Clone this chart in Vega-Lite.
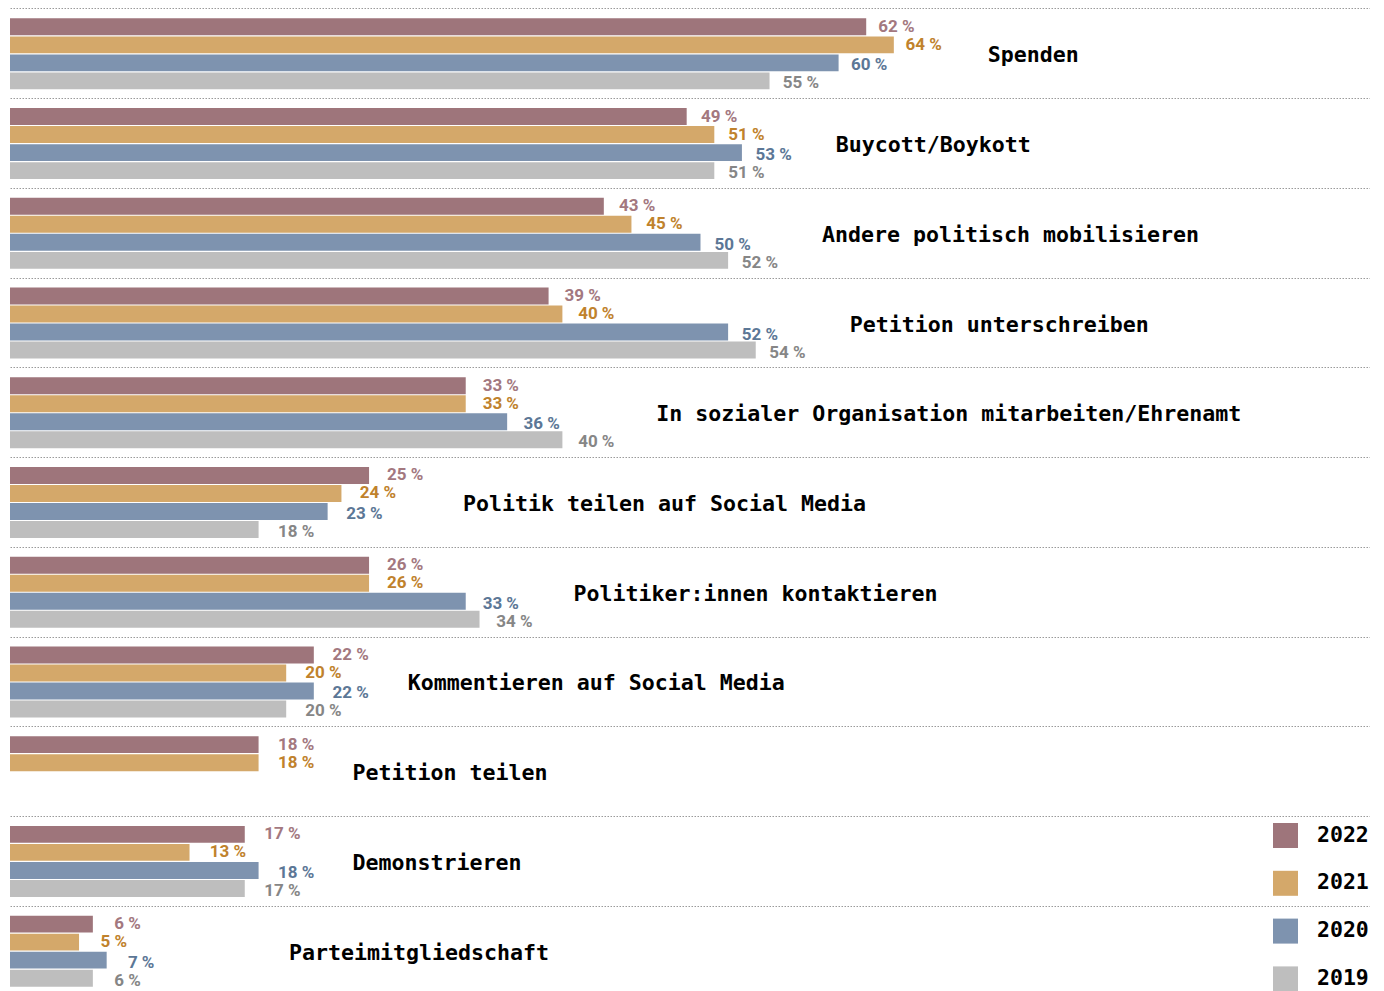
{
  "$schema": "https://vega.github.io/schema/vega-lite/v6.json",
  "autosize": {"type": "none"},
  "padding": {"left": 10, "top": 9, "right": 0, "bottom": 0},
  "width": 1360,
  "height": 987,
  "background": "white",
  "config": {"view": {"stroke": null}, "font": "DejaVu Sans Mono"},
  "data": {"values": [
    {"cat": "Spenden", "year": "2022", "value": 62},
    {"cat": "Spenden", "year": "2021", "value": 64},
    {"cat": "Spenden", "year": "2020", "value": 60},
    {"cat": "Spenden", "year": "2019", "value": 55},
    {"cat": "Buycott/Boykott", "year": "2022", "value": 49},
    {"cat": "Buycott/Boykott", "year": "2021", "value": 51},
    {"cat": "Buycott/Boykott", "year": "2020", "value": 53},
    {"cat": "Buycott/Boykott", "year": "2019", "value": 51},
    {"cat": "Andere politisch mobilisieren", "year": "2022", "value": 43},
    {"cat": "Andere politisch mobilisieren", "year": "2021", "value": 45},
    {"cat": "Andere politisch mobilisieren", "year": "2020", "value": 50},
    {"cat": "Andere politisch mobilisieren", "year": "2019", "value": 52},
    {"cat": "Petition unterschreiben", "year": "2022", "value": 39},
    {"cat": "Petition unterschreiben", "year": "2021", "value": 40},
    {"cat": "Petition unterschreiben", "year": "2020", "value": 52},
    {"cat": "Petition unterschreiben", "year": "2019", "value": 54},
    {"cat": "In sozialer Organisation mitarbeiten/Ehrenamt", "year": "2022", "value": 33},
    {"cat": "In sozialer Organisation mitarbeiten/Ehrenamt", "year": "2021", "value": 33},
    {"cat": "In sozialer Organisation mitarbeiten/Ehrenamt", "year": "2020", "value": 36},
    {"cat": "In sozialer Organisation mitarbeiten/Ehrenamt", "year": "2019", "value": 40},
    {"cat": "Politik teilen auf Social Media", "year": "2022", "value": 26, "label": 25},
    {"cat": "Politik teilen auf Social Media", "year": "2021", "value": 24},
    {"cat": "Politik teilen auf Social Media", "year": "2020", "value": 23},
    {"cat": "Politik teilen auf Social Media", "year": "2019", "value": 18},
    {"cat": "Politiker:innen kontaktieren", "year": "2022", "value": 26},
    {"cat": "Politiker:innen kontaktieren", "year": "2021", "value": 26},
    {"cat": "Politiker:innen kontaktieren", "year": "2020", "value": 33},
    {"cat": "Politiker:innen kontaktieren", "year": "2019", "value": 34},
    {"cat": "Kommentieren auf Social Media", "year": "2022", "value": 22},
    {"cat": "Kommentieren auf Social Media", "year": "2021", "value": 20},
    {"cat": "Kommentieren auf Social Media", "year": "2020", "value": 22},
    {"cat": "Kommentieren auf Social Media", "year": "2019", "value": 20},
    {"cat": "Petition teilen", "year": "2022", "value": 18},
    {"cat": "Petition teilen", "year": "2021", "value": 18},
    {"cat": "Demonstrieren", "year": "2022", "value": 17},
    {"cat": "Demonstrieren", "year": "2021", "value": 13},
    {"cat": "Demonstrieren", "year": "2020", "value": 18},
    {"cat": "Demonstrieren", "year": "2019", "value": 17},
    {"cat": "Parteimitgliedschaft", "year": "2022", "value": 6},
    {"cat": "Parteimitgliedschaft", "year": "2021", "value": 5},
    {"cat": "Parteimitgliedschaft", "year": "2020", "value": 7},
    {"cat": "Parteimitgliedschaft", "year": "2019", "value": 6}
  ]},
  "transform": [
    {"joinaggregate": [{"op": "max", "field": "value", "as": "maxv"}], "groupby": ["cat"]},
    {"calculate": "max(datum.maxv + 6.8, 20.2)", "as": "labelX"},
    {"calculate": "datum.value * 0.988 + 1.62", "as": "valPos"},
    {"calculate": "(isValid(datum.label) ? datum.label : datum.value) + ' %'", "as": "vlabel"}
  ],
  "encoding": {
    "y": {
      "field": "cat", "type": "nominal", "sort": null,
      "scale": {"paddingInner": 0, "paddingOuter": 0},
      "axis": {"title": null, "labels": false, "ticks": false, "domain": false, "grid": true, "bandPosition": 0, "gridDash": [1.5, 1.5], "gridColor": "#9a9a9a", "gridWidth": 1}
    }
  },
  "layer": [
    {
      "mark": {"type": "bar", "cornerRadius": 0},
      "encoding": {
        "x": {"field": "value", "type": "quantitative", "scale": {"domain": [0, 98.48], "nice": false, "zero": true}, "axis": null},
        "yOffset": {"field": "year", "type": "nominal", "sort": ["2022", "2021", "2020", "2019"], "scale": {"paddingInner": 0.06, "paddingOuter": 0.52}},
        "color": {
          "field": "year", "type": "nominal",
          "scale": {"domain": ["2022", "2021", "2020", "2019"], "range": ["#9e757b", "#d4a86a", "#7e93af", "#bebebe"]},
          "legend": {
            "title": null, "orient": "none", "legendX": 1263, "legendY": 814,
            "symbolType": "square", "symbolSize": 625, "symbolStrokeWidth": 0, "symbolOpacity": 1,
            "labelFontSize": 21.5, "labelFont": "DejaVu Sans Mono", "labelFontWeight": "bold", "labelColor": "black",
            "labelOffset": 19, "rowPadding": 22.8, "padding": 0
          }
        }
      }
    },
    {
      "transform": [{"filter": "datum.year === '2022' || datum.year === '2021'"}],
      "mark": {"type": "text", "align": "left", "baseline": "middle", "dy": 0, "fontSize": 17, "fontWeight": "bold", "font": "Roboto"},
      "encoding": {
        "x": {"field": "valPos", "type": "quantitative"},
        "yOffset": {"field": "year", "type": "nominal", "sort": ["2022", "2021", "2020", "2019"]},
        "text": {"field": "vlabel"},
        "color": {
          "field": "year", "type": "nominal",
          "scale": {"domain": ["2022", "2021", "2020", "2019"], "range": ["#a3787f", "#c0822c", "#5c7796", "#868686"]},
          "legend": null
        }
      }
    },
    {
      "transform": [{"filter": "datum.year === '2020' || datum.year === '2019'"}],
      "mark": {"type": "text", "align": "left", "baseline": "middle", "dy": 2.5, "fontSize": 17, "fontWeight": "bold", "font": "Roboto"},
      "encoding": {
        "x": {"field": "valPos", "type": "quantitative"},
        "yOffset": {"field": "year", "type": "nominal", "sort": ["2022", "2021", "2020", "2019"]},
        "text": {"field": "vlabel"},
        "color": {
          "field": "year", "type": "nominal",
          "scale": {"domain": ["2022", "2021", "2020", "2019"], "range": ["#a3787f", "#c0822c", "#5c7796", "#868686"]},
          "legend": null
        }
      }
    },
    {
      "transform": [{"filter": "datum.year === '2022'"}],
      "mark": {"type": "text", "align": "left", "baseline": "middle", "dy": 2.5, "fontSize": 21.6, "fontWeight": "bold", "font": "DejaVu Sans Mono", "color": "black"},
      "encoding": {
        "x": {"field": "labelX", "type": "quantitative"},
        "text": {"field": "cat"}
      }
    }
  ],
  "resolve": {"scale": {"color": "independent"}}
}
